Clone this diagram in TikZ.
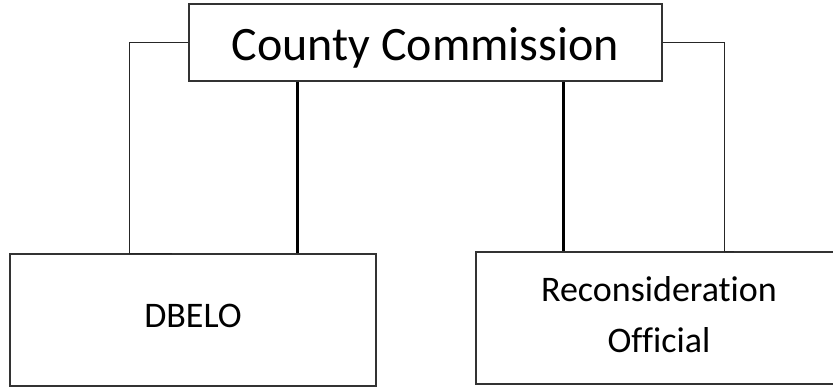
\documentclass[tikz,border=0pt]{standalone}
\usepackage{fontspec}
\setmainfont[Ligatures=NoCommon]{Carlito}
\usetikzlibrary{calc}

\tikzset{
	box/.style={draw=black!80, line width=1.3pt, inner sep=0pt},
	thinline/.style={draw=black!85, line width=1pt},
	thickline/.style={draw=black, line width=3pt},
}

\begin{document}
\begin{tikzpicture}[x=1pt, y=-1pt]
			%%%%% START %%%%%
			\useasboundingbox (0, 0) rectangle (833, 387);
			
			\node[box, minimum width=473pt, minimum height=77pt, text height=40pt, text depth=3pt, font=\fontsize{48}{58}\selectfont] (commission) at (425.5, 42.5) {County Commission};
			\node[box, minimum width=366pt, minimum height=132pt, text height=23pt, text depth=7pt, font=\fontsize{36}{44}\selectfont] (dbelo) at (193, 320) {DBELO};
			\node[box, minimum width=366pt, minimum height=132pt, align=center, text depth=7pt, font=\fontsize{36}{51}\selectfont] (recon) at (659, 318) {Reconsideration\\Official};
			
			\coordinate (lbend) at (129, 42.5);
			\coordinate (lend) at (172, 254);
			\coordinate (rbend) at (724, 42.5);
			\coordinate (rend) at (734, 252);
			\draw[thinline] (commission.west) -- (lbend) |- (lend);
			\draw[thinline] (commission.east) -- (rbend) |- (rend);
			
			\coordinate (lx) at (297, 0);
			\coordinate (rx) at (563, 0);
			\draw[thickline] (commission.south -| lx) -- (dbelo.north -| lx);
			\draw[thickline] (commission.south -| rx) -- (recon.north -| rx);
			
			%%%%% END %%%%%
\end{tikzpicture}
\end{document}
